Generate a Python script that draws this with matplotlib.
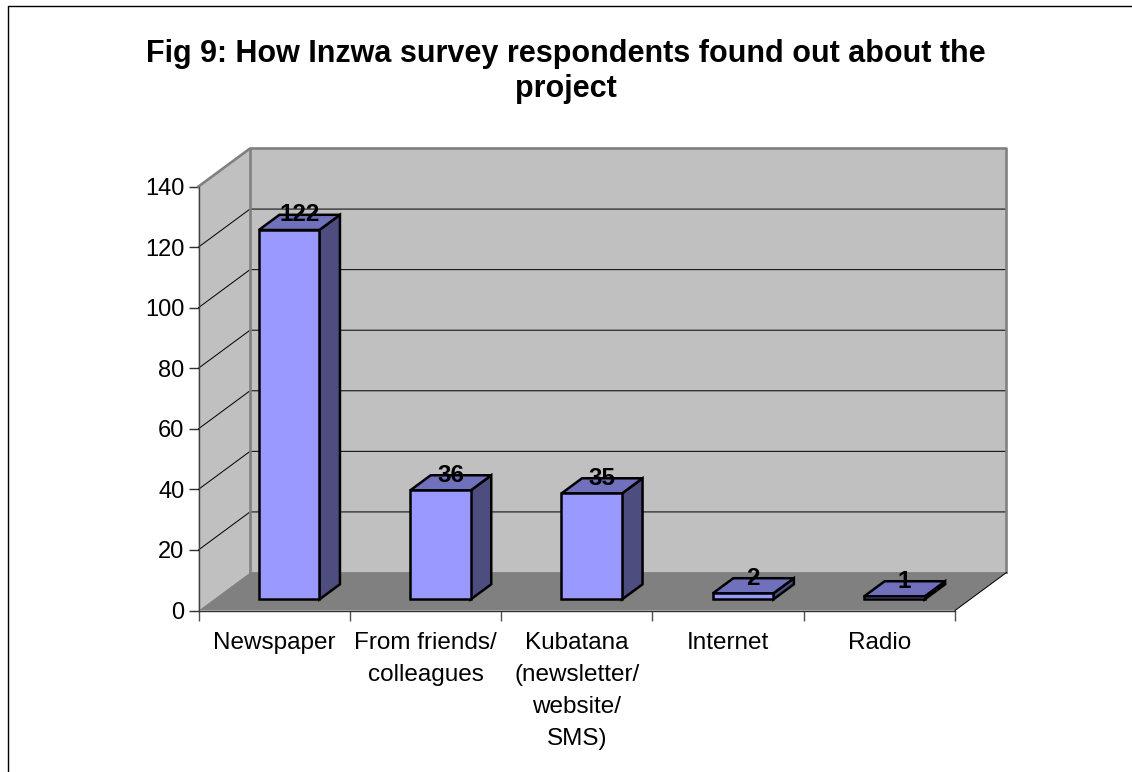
import matplotlib
matplotlib.use('Agg')
import matplotlib.pyplot as plt
from matplotlib.lines import Line2D
from matplotlib.patches import Polygon

plt.rcParams['font.family'] = ['Liberation Sans', 'DejaVu Sans']

categorias = ['Newspaper', 'From friends/\ncolleagues', 'Kubatana\n(newsletter/\nwebsite/\nSMS)', 'Internet', 'Radio']
valores = [122, 36, 35, 2, 1]
y_ticks = [0, 20, 40, 60, 80, 100, 120, 140]
titulo = 'Fig 9: How Inzwa survey respondents found out about the\nproject'

W, H = 1132, 772
fig = plt.figure(figsize=(W / 100, H / 100), dpi=100)
ax = fig.add_axes([198.5 / W, 1 - 610.5 / H, 756.5 / W, 424 / H])
ax.set_xlim(0, 5)
ax.set_ylim(0, 140)
for s in ax.spines.values():
    s.set_visible(False)

# depth vector of the fake 3D box, in data units
DX = 51.5 / (756.5 / 5)
DY = 38 / (424 / 140)


def p(x, y, d=0.0):
    return (x + d * DX, y + d * DY)


def cara(puntos, color, edge='none', lw=0, z=1):
    ax.add_patch(Polygon(puntos, closed=True, facecolor=color, edgecolor=edge,
                         linewidth=lw, clip_on=False, zorder=z, joinstyle='miter'))


# walls and floor
cara([p(0, 0), p(0, 0, 1), p(0, 140, 1), p(0, 140)], '#C0C0C0')
cara([p(0, 0, 1), p(5, 0, 1), p(5, 140, 1), p(0, 140, 1)], '#C0C0C0')
cara([p(0, 0), p(5, 0), p(5, 0, 1), p(0, 0, 1)], '#808080')

# gridlines
for t in y_ticks[1:-1]:
    xs, ys = zip(p(0, t), p(0, t, 1), p(5, t, 1))
    ax.plot(xs, ys, color='black', lw=0.72, clip_on=False, zorder=2)

# wall edges
gris = dict(color='#808080', lw=1.9, clip_on=False, zorder=3, solid_capstyle='projecting')
xs, ys = zip(p(0, 140), p(0, 140, 1), p(5, 140, 1), p(5, 0, 1))
ax.plot(xs, ys, **gris)
xs, ys = zip(p(0, 0, 1), p(0, 140, 1))
ax.plot(xs, ys, **gris)
xs, ys = zip(p(0, 0, 1), p(5, 0, 1))
ax.plot(xs, ys, color='#808080', lw=1.2, clip_on=False, zorder=3)
xs, ys = zip(p(5, 0), p(5, 0, 1))
ax.plot(xs, ys, color='black', lw=0.72, clip_on=False, zorder=3)
xs, ys = zip(p(0, 0), p(0, 140))
ax.plot(xs, ys, color='#404040', lw=1, clip_on=False, zorder=3)
xs, ys = zip(p(0, 0), p(5, 0))
ax.plot(xs, ys, color='#303030', lw=1, clip_on=False, zorder=3)

# bars
ancho = 0.4
d0, d1 = 0.29, 0.69
for i, v in enumerate(valores):
    a, b = i + 0.5 - ancho / 2, i + 0.5 + ancho / 2
    cara([p(b, 0, d0), p(b, 0, d1), p(b, v, d1), p(b, v, d0)], '#4D4D80', 'black', 1.8, 4)
    cara([p(a, v, d0), p(b, v, d0), p(b, v, d1), p(a, v, d1)], '#7070BC', 'black', 1.8, 4)
    cara([p(a, 0, d0), p(b, 0, d0), p(b, v, d0), p(a, v, d0)], '#9999FF', 'black', 1.8, 5)
    lx = p(i + 0.5, v, (d0 + d1) / 2)[0]
    ly = p(i + 0.5, v, d1)[1]
    ax.text(lx, ly, str(v), ha='center', va='center', fontsize=17.5, fontweight='bold',
            color='black', zorder=6, clip_on=False)

# axes ticks
ax.set_yticks(y_ticks)
ax.set_xticks(range(6))
ax.set_xticklabels([])
ax.set_xticks([i + 0.5 for i in range(5)], minor=True)
ax.set_xticklabels(categorias, minor=True, fontsize=17.5, linespacing=1.58)
ax.tick_params(axis='x', which='major', length=7, width=1, color='#505050', direction='out')
ax.tick_params(axis='x', which='minor', length=0, pad=15.5)
ax.tick_params(axis='y', length=7, width=1, color='#303030', labelsize=17, pad=3)

fig.text(565.5 / W, 1 - 71.5 / H, titulo, ha='center', va='center', fontsize=22,
         fontweight='bold', linespacing=1.18)

# chart area border (only top and left are inside the picture)
fig.add_artist(Line2D([8 / W, 8 / W, 1], [0, 1 - 6 / H, 1 - 6 / H], color='black', lw=1))

fig.savefig('out.png', dpi=100, facecolor='white')
